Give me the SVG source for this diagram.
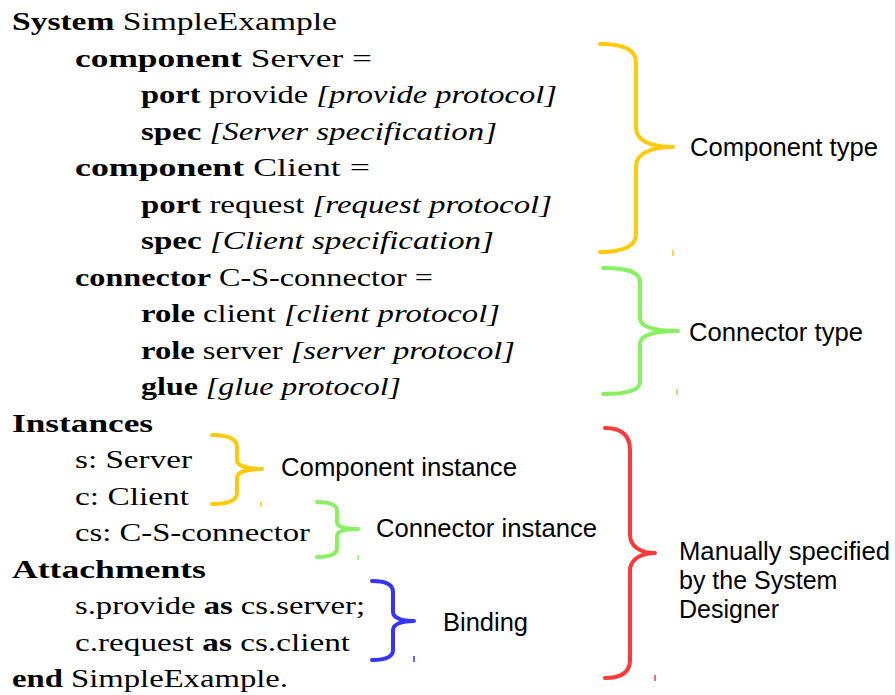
<svg xmlns="http://www.w3.org/2000/svg" width="895" height="695" viewBox="0 0 895 695">
<style>
.c{font-family:"Liberation Serif","Times New Roman",serif;font-size:25px;fill:#000}
.b{font-weight:bold}
.i{font-style:italic}
.l{font-family:"Liberation Sans",Arial,sans-serif;font-size:25px;fill:#000}
.br{fill:none;stroke-width:4;stroke-linecap:round;stroke-linejoin:round}
.tk{stroke-width:1.5}
.y{stroke:#FFCA0A}
.g{stroke:#88F062}
.bl{stroke:#3535FF}
.r{stroke:#FF3838}
</style>
<rect width="895" height="695" fill="#fff"/>
<g id="code">
<text class="c" x="12" y="30" textLength="325" lengthAdjust="spacingAndGlyphs"><tspan class="b">System</tspan> SimpleExample</text>
<text class="c" x="75" y="66.5" textLength="297" lengthAdjust="spacingAndGlyphs"><tspan class="b">component</tspan> Server =</text>
<text class="c" x="141" y="103" textLength="416" lengthAdjust="spacingAndGlyphs"><tspan class="b">port</tspan> provide <tspan class="i">[provide protocol]</tspan></text>
<text class="c" x="141" y="139.5" textLength="356" lengthAdjust="spacingAndGlyphs"><tspan class="b">spec</tspan> <tspan class="i">[Server specification]</tspan></text>
<text class="c" x="75" y="176" textLength="295" lengthAdjust="spacingAndGlyphs"><tspan class="b">component</tspan> Client =</text>
<text class="c" x="141" y="212.5" textLength="411" lengthAdjust="spacingAndGlyphs"><tspan class="b">port</tspan> request <tspan class="i">[request protocol]</tspan></text>
<text class="c" x="141" y="249" textLength="353" lengthAdjust="spacingAndGlyphs"><tspan class="b">spec</tspan> <tspan class="i">[Client specification]</tspan></text>
<text class="c" x="75" y="285.5" textLength="358" lengthAdjust="spacingAndGlyphs"><tspan class="b">connector</tspan> C-S-connector =</text>
<text class="c" x="141" y="322" textLength="359" lengthAdjust="spacingAndGlyphs"><tspan class="b">role</tspan> client <tspan class="i">[client protocol]</tspan></text>
<text class="c" x="141" y="358.5" textLength="374" lengthAdjust="spacingAndGlyphs"><tspan class="b">role</tspan> server <tspan class="i">[server protocol]</tspan></text>
<text class="c" x="141" y="395" textLength="260" lengthAdjust="spacingAndGlyphs"><tspan class="b">glue</tspan> <tspan class="i">[glue protocol]</tspan></text>
<text class="c b" x="12" y="431.5" textLength="141" lengthAdjust="spacingAndGlyphs">Instances</text>
<text class="c" x="75" y="468" textLength="117" lengthAdjust="spacingAndGlyphs">s:  Server</text>
<text class="c" x="75" y="504.5" textLength="114" lengthAdjust="spacingAndGlyphs">c:  Client</text>
<text class="c" x="75" y="541" textLength="235" lengthAdjust="spacingAndGlyphs">cs:  C-S-connector</text>
<text class="c b" x="12" y="577.5" textLength="194" lengthAdjust="spacingAndGlyphs">Attachments</text>
<text class="c" x="75" y="614" textLength="290" lengthAdjust="spacingAndGlyphs">s.provide <tspan class="b">as</tspan> cs.server;</text>
<text class="c" x="75" y="650.5" textLength="275" lengthAdjust="spacingAndGlyphs">c.request <tspan class="b">as</tspan> cs.client</text>
<text class="c" x="12" y="687" textLength="276" lengthAdjust="spacingAndGlyphs"><tspan class="b">end</tspan> SimpleExample.</text>
</g>
<g id="component-type">
<path class="br y" d="M600,44 C624,44 636,50 636,62 L636,128 C636,140 650,147 673,147 C650,147 636,154 636,166 L636,234 C636,246 624,252 600,252"/>
<line class="tk y" x1="673" y1="250" x2="673" y2="256"/>
<text class="l" x="690" y="156" textLength="188" lengthAdjust="spacingAndGlyphs">Component type</text>
</g>
<g id="connector-type">
<path class="br g" d="M603,268 C628,268 640,272 640,282 L640,318 C640,327 655,331 678,331 C655,331 640,335 640,344 L640,382 C640,390 628,394 603,394"/>
<line class="tk g" x1="677" y1="389" x2="677" y2="395"/>
<text class="l" x="689" y="341" textLength="174" lengthAdjust="spacingAndGlyphs">Connector type</text>
</g>
<g id="component-instance">
<path class="br y" d="M212,435 C228,435 237,438 237,447 L237,460 C237,466 247,469 262,469 C247,469 237,472 237,478 L237,493 C237,501 228,504 212,504"/>
<line class="tk y" x1="261" y1="502" x2="261" y2="507"/>
<text class="l" x="281" y="476" textLength="236" lengthAdjust="spacingAndGlyphs">Component instance</text>
</g>
<g id="connector-instance">
<path class="br g" d="M317,502 C330,502 337,505 337,511 L337,522 C337,527 345,529 358,529 C345,529 337,531 337,536 L337,548 C337,554 330,557 317,557"/>
<line class="tk g" x1="358" y1="555" x2="358" y2="560"/>
<text class="l" x="376" y="537" textLength="221" lengthAdjust="spacingAndGlyphs">Connector instance</text>
</g>
<g id="binding">
<path class="br bl" d="M372,581 C386,581 393,584 393,592 L393,612 C393,618 402,621 414,621 C402,621 393,624 393,630 L393,650 C393,657 386,660 372,660"/>
<line class="tk bl" x1="414" y1="656" x2="414" y2="662"/>
<text class="l" x="443" y="631" textLength="85" lengthAdjust="spacingAndGlyphs">Binding</text>
</g>
<g id="manual">
<path class="br r" d="M605,428 C622,428 630,436 630,450 L630,535 C630,546 640,553 655,553 C640,553 630,560 630,571 L630,660 C630,672 622,678 605,678"/>
<line class="tk r" x1="655" y1="675" x2="655" y2="681"/>
<text class="l" x="679" y="560" textLength="211" lengthAdjust="spacingAndGlyphs">Manually specified</text>
<text class="l" x="679" y="589">by the System</text>
<text class="l" x="679" y="618">Designer</text>
</g>
</svg>
